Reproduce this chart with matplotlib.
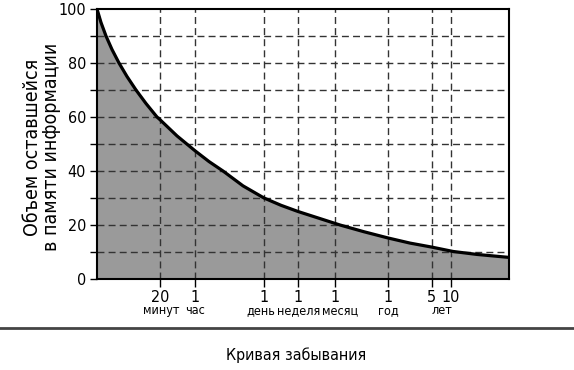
import matplotlib
matplotlib.use('Agg')
import matplotlib.pyplot as plt
from matplotlib.ticker import MultipleLocator

plt.rcParams['font.family'] = ['DejaVu Sans']
plt.rcParams['font.stretch'] = 'condensed'

# позиции делений по оси времени (условная шкала 0..412)
tick_pos = [63, 98, 167, 201, 238, 291, 335, 354]
tick_num = ['20', '1', '1', '1', '1', '1', '5', '10']
tick_word = ['минут', 'час', 'день', 'неделя', 'месяц', 'год', 'лет']
word_pos = [64, 98, 164, 202, 243, 291, 345]

# кривая забывания
curve_x = [0, 4, 9, 15, 22, 30, 39, 49, 60, 63, 80, 98, 112, 126, 146, 167,
           184, 201, 222, 243, 267, 291, 313, 335, 356, 380, 412]
curve_y = [100, 95, 90, 85, 80, 75, 70, 65, 60, 59, 53, 47.5, 43.5, 40,
           34.5, 30, 27.3, 25, 22.5, 20, 17.5, 15.2, 13.3, 11.8, 10.2, 9.1, 8]

fig = plt.figure(figsize=(5.74, 3.70), dpi=100)
ax = fig.add_axes([97 / 574, 1 - 279 / 370, 412 / 574, 270 / 370])

ax.fill_between(curve_x, curve_y, 0, color='#9a9a9a', zorder=1)
ax.plot(curve_x, curve_y, color='black', lw=2.3, zorder=3)

ax.set_xlim(0, 412)
ax.set_ylim(0, 100)

ax.set_xticks(tick_pos)
ax.set_xticklabels(tick_num, fontsize=11.5)
ax.yaxis.set_major_locator(MultipleLocator(20))
ax.yaxis.set_minor_locator(MultipleLocator(10))
ax.tick_params(axis='y', which='both', length=5, width=1, labelsize=11.5, pad=3)
ax.tick_params(axis='x', length=6, width=1, pad=2)

for x in tick_pos:
    ax.axvline(x, color='#333333', lw=1, ls=(0, (5, 3)), zorder=2)
for y in range(10, 100, 10):
    ax.axhline(y, color='#333333', lw=1, ls=(0, (5, 3)), zorder=2)

for sp in ax.spines.values():
    sp.set_linewidth(1.5)

for x, w in zip(word_pos, tick_word):
    ax.text(x, -0.118, w, transform=ax.get_xaxis_transform(), ha='center',
            va='center', fontsize=9)

fig.text(42 / 574, 1 - 147 / 370, 'Объем оставшейся\nв памяти информации',
         rotation=90, ha='center', va='center', fontsize=14, linespacing=1.05)

fig.add_artist(plt.Line2D([0, 1], [1 - 328 / 370, 1 - 328 / 370],
                          transform=fig.transFigure, color='#444444', lw=2))
fig.text(296 / 574, 1 - 355 / 370, 'Кривая забывания', ha='center',
         va='center', fontsize=11.5)

fig.savefig('out.png', dpi=100)
